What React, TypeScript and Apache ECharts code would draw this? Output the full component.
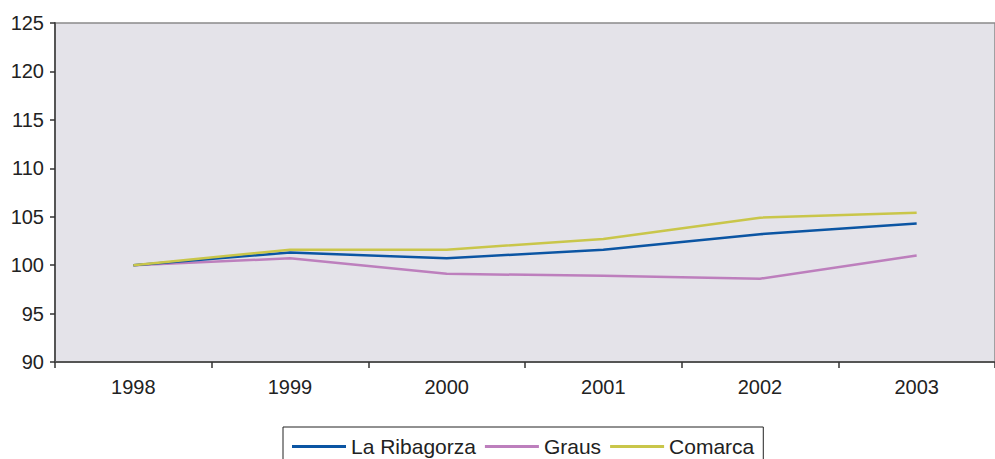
import React, { useEffect, useRef } from "react";
import * as echarts from "echarts";

const categories = ["1998", "1999", "2000", "2001", "2002", "2003"];
const ribagorza = [100, 101.3, 100.7, 101.6, 103.2, 104.3];
const graus = [100, 100.7, 99.1, 98.9, 98.6, 101.0];
const comarca = [100, 101.6, 101.6, 102.7, 104.9, 105.4];

export default function App() {
  const ref = useRef<HTMLDivElement>(null);
  useEffect(() => {
    if (!ref.current) return;
    const chart = echarts.init(ref.current, undefined, { renderer: "svg" });
    const font = "'Liberation Sans', Arial, sans-serif";
    chart.setOption({
      animation: false,
      backgroundColor: "#ffffff",
      textStyle: { fontFamily: font },
      grid: {
        left: 55,
        top: 23,
        width: 945,
        height: 339,
        show: true,
        backgroundColor: "#e4e3e9",
        borderColor: "#8a8a8a",
        borderWidth: 1.5,
      },
      legend: {
        left: 283,
        top: 427,
        padding: [9, 9, 12, 9],
        borderColor: "#222",
        borderWidth: 1,
        icon: "rect",
        itemWidth: 54,
        itemHeight: 3,
        itemGap: 9,
        textStyle: { fontSize: 21, color: "#222", fontFamily: font },
        data: ["La Ribagorza", "Graus", "Comarca"],
      },
      xAxis: {
        type: "category",
        data: categories,
        boundaryGap: true,
        axisLine: { lineStyle: { color: "#555", width: 2 } },
        axisTick: { show: true, length: 6, lineStyle: { color: "#333", width: 1.5 } },
        axisLabel: { fontSize: 20, color: "#222", margin: 15, fontFamily: font },
        splitLine: { show: false },
      },
      yAxis: {
        type: "value",
        min: 90,
        max: 125,
        interval: 5,
        axisLine: { show: true, lineStyle: { color: "#555", width: 2 } },
        axisTick: { show: true, length: 5, lineStyle: { color: "#333", width: 1.5 } },
        axisLabel: { fontSize: 20, color: "#222", margin: 11, fontFamily: font },
        splitLine: { show: false },
      },
      series: [
        {
          name: "La Ribagorza",
          type: "line",
          data: ribagorza,
          symbol: "none",
          lineStyle: { color: "#0b55a3", width: 2.5 },
          itemStyle: { color: "#0b55a3" },
          z: 3,
        },
        {
          name: "Graus",
          type: "line",
          data: graus,
          symbol: "none",
          lineStyle: { color: "#bd7fbd", width: 2.5 },
          itemStyle: { color: "#bd7fbd" },
          z: 2,
        },
        {
          name: "Comarca",
          type: "line",
          data: comarca,
          symbol: "none",
          lineStyle: { color: "#c9c64a", width: 2.5 },
          itemStyle: { color: "#c9c64a" },
          z: 4,
        },
      ],
    });
    return () => chart.dispose();
  }, []);
  return (
    <div
      ref={ref}
      style={{ position: "fixed", left: 0, top: 0, width: 995, height: 459 }}
    />
  );
}
